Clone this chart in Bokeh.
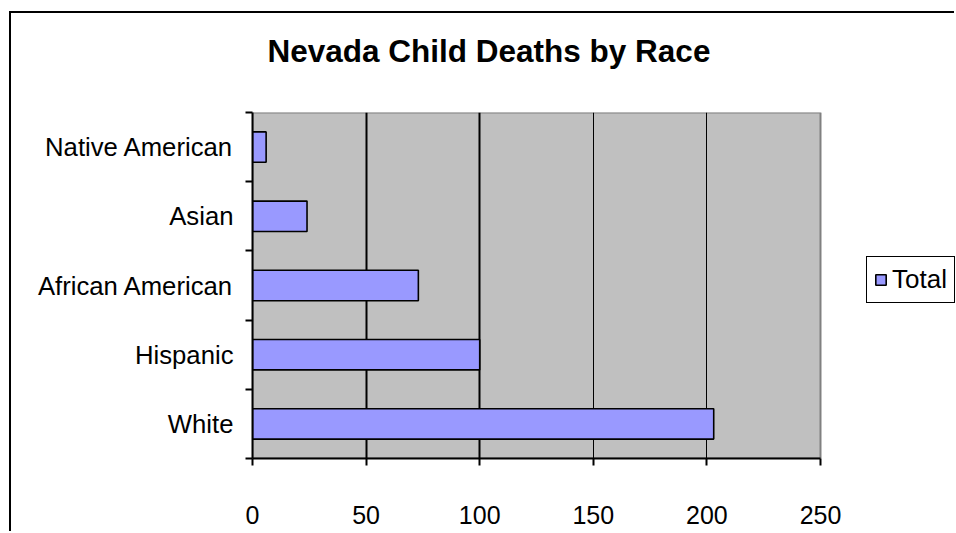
from bokeh.plotting import figure
from bokeh.models import (Range1d, FixedTicker, Legend, LegendItem, ColumnDataSource,
                          Title, BoxAnnotation, Grid)
from bokeh.embed import file_html
from bokeh.resources import INLINE

# Data (bottom to top as drawn)
races = ["White", "Hispanic", "African American", "Asian", "Native American"]
totals = [203, 100, 73, 24, 6]
x_ticks = [0, 50, 100, 150, 200, 250]
x_max = 250
series_name = "Total"
title_text = "Nevada Child Deaths by Race"

FONT = "Liberation Sans"

# layout geometry (pixels)
CANVAS_W, CANVAS_H = 945, 520
BORDER_L, BORDER_T, BORDER_B = 241, 99, 75
PLOT_W = 568                       # width of the grey plot area
FRAME_W = CANVAS_W - BORDER_L       # frame runs to the right edge (room for legend)
x_end = x_max * FRAME_W / PLOT_W

ypos = [i + 0.5 for i in range(len(races))]
src = ColumnDataSource(dict(y=ypos, right=totals, race=races))

p = figure(width=CANVAS_W, height=CANVAS_H, output_backend="svg", toolbar_location=None,
           x_range=Range1d(0, x_end), y_range=Range1d(0, len(races)),
           min_border_left=BORDER_L, min_border_right=0,
           min_border_top=BORDER_T, min_border_bottom=BORDER_B)
p.margin = (11, 0, 0, 9)
p.styles = {"border-left": "2px solid black", "border-top": "2px solid black"}

p.background_fill_color = "white"
p.border_fill_color = "white"
p.outline_line_color = None

# grey plot area
area = BoxAnnotation(left=0, right=x_max, bottom=0, top=len(races),
                     fill_color="#C0C0C0", fill_alpha=1,
                     line_color="#808080", line_alpha=1, line_width=2, level="image")
p.add_layout(area)

r = p.hbar(y="y", right="right", left=0, height=0.44, source=src,
           fill_color="#9999FF", line_color="black", line_width=1.6)

# spacer between frame and title
p.add_layout(Title(text=" ", text_font_size="1px", standoff=24), "above")

# title
p.title.text = title_text
p.title.text_font = FONT
p.title.text_font_size = "31.5px"
p.title.text_font_style = "bold"
p.title.text_color = "black"
p.title.align = "left"
p.title.offset = 15
p.title.standoff = 34

# x axis
p.xaxis.ticker = FixedTicker(ticks=x_ticks)
p.xaxis.bounds = (0, x_max)
p.xaxis.axis_line_color = "black"
p.xaxis.axis_line_width = 2
p.xaxis.major_tick_out = 7
p.xaxis.major_tick_in = 0
p.xaxis.major_tick_line_width = 2
p.xaxis.minor_tick_line_color = None
p.xaxis.major_label_standoff = 40
p.xaxis.major_label_text_font = FONT
p.xaxis.major_label_text_font_size = "25px"
p.xaxis.major_label_text_color = "black"

# y axis: labels at centers, ticks at boundaries
p.yaxis.ticker = FixedTicker(ticks=ypos, minor_ticks=list(range(len(races) + 1)))
p.yaxis.major_label_overrides = {yv: name for yv, name in zip(ypos, races)}
p.yaxis.major_tick_out = 0
p.yaxis.major_tick_in = 0
p.yaxis.major_tick_line_color = None
p.yaxis.minor_tick_out = 7
p.yaxis.minor_tick_in = 0
p.yaxis.minor_tick_line_color = "black"
p.yaxis.minor_tick_line_width = 2
p.yaxis.axis_line_color = "black"
p.yaxis.axis_line_width = 2
p.yaxis.major_label_standoff = 12
p.yaxis.major_label_text_font = FONT
p.yaxis.major_label_text_font_size = "25.7px"
p.yaxis.major_label_text_color = "black"

# grid
p.ygrid.grid_line_color = None
p.xgrid.ticker = FixedTicker(ticks=[50, 100])
p.xgrid.grid_line_color = "black"
p.xgrid.grid_line_width = 2
grid2 = Grid(dimension=0, ticker=FixedTicker(ticks=[150, 200]),
             grid_line_color="black", grid_line_width=1)
p.add_layout(grid2)

legend = Legend(items=[LegendItem(label=series_name, renderers=[r])],
                location=(PLOT_W + 46, 155))
legend.label_text_font = FONT
legend.label_text_font_size = "26px"
legend.label_text_color = "black"
legend.glyph_width = 13
legend.glyph_height = 13
legend.label_standoff = 5
legend.padding = 7
legend.margin = 0
legend.border_line_color = "black"
legend.border_line_alpha = 1
legend.border_line_width = 1.5
legend.background_fill_color = "white"
legend.background_fill_alpha = 1
p.add_layout(legend, "center")

open("out.html", "w").write(file_html(p, INLINE))
